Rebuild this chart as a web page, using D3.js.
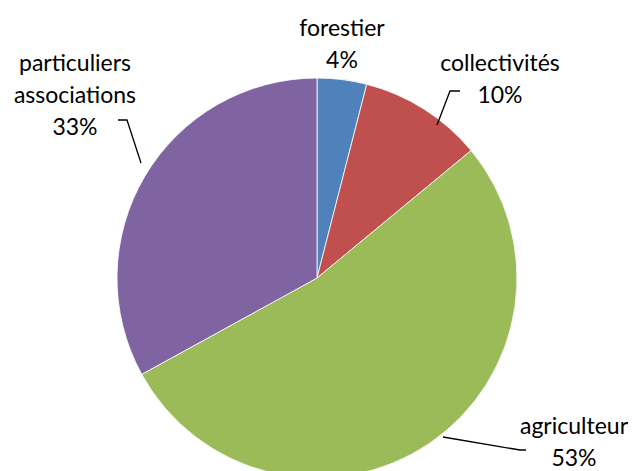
<!DOCTYPE html>
<html>
<head>
<meta charset="utf-8">
<script src="https://cdn.jsdelivr.net/npm/d3@7"></script>
<style>
  body { margin: 0; background: #fff; }
  text { font-family: Lato, "Open Sans", sans-serif; fill: #000; }
</style>
</head>
<body>
<div class="chart"></div>
<script>
// slices, clockwise from 12 o'clock
const categories = ["forestier", "collectivités", "agriculteur", "particuliers associations"];
const values = [4, 10, 53, 33];
const colors = ["#4F81BD", "#C0504D", "#9BBB59", "#8064A2"];

const width = 632, height = 471;
const cx = 317, cy = 278, radius = 200;

const svg = d3.select(".chart").append("svg")
    .attr("width", width)
    .attr("height", height);

const g = svg.append("g")
    .attr("transform", `translate(${cx},${cy})`);

const pie = d3.pie().sort(null).value(d => d);
const arcs = pie(values);
const arc = d3.arc().innerRadius(0).outerRadius(radius);

g.selectAll("path")
    .data(arcs)
    .enter().append("path")
    .attr("d", arc)
    .attr("fill", (d, i) => colors[i])
    .attr("stroke", "#fff")
    .attr("stroke-width", 0.8);

// label placement (absolute page coords) and leader lines
const labelPos = [
  { x: 342, y: 36, lines: ["forestier"] },
  { x: 500, y: 71, lines: ["collectivités"] },
  { x: 574, y: 434, lines: ["agriculteur"] },
  { x: 75, y: 71, lines: ["particuliers", "associations"] }
];
const leaders = [
  null,
  [[460, 91], [450, 91], [437, 125]],
  [[443, 437], [520, 450], [526, 450]],
  [[118, 120], [127, 120], [141, 163]]
];

const line = d3.line();
svg.append("g")
    .selectAll("path")
    .data(leaders.filter(d => d))
    .enter().append("path")
    .attr("d", d => line(d))
    .attr("fill", "none")
    .attr("stroke", "#000")
    .attr("stroke-width", 1.3);

const labels = svg.append("g")
    .selectAll("text")
    .data(arcs)
    .enter().append("text")
    .attr("text-anchor", "middle")
    .style("font-size", "23px");

labels.each(function(d, i) {
  const t = d3.select(this);
  const p = labelPos[i];
  const rows = p.lines.concat([values[i] + "%"]);
  rows.forEach((r, j) => {
    t.append("tspan")
      .attr("x", p.x)
      .attr("y", p.y + j * 32)
      .text(r);
  });
});
</script>
</body>
</html>
